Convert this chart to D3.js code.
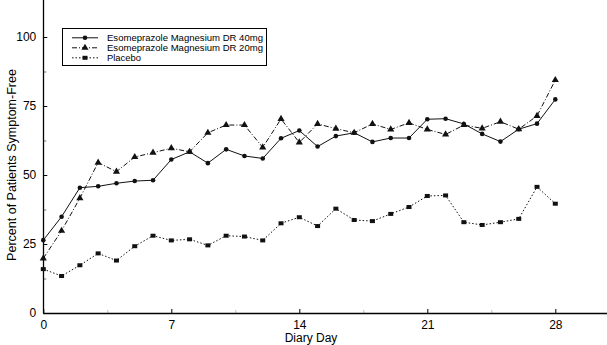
<!DOCTYPE html>
<html><head><meta charset="utf-8">
<script src="https://cdn.jsdelivr.net/npm/d3@7"></script>
<style>body{margin:0;background:#fff}svg{display:block}text{font-family:"Liberation Sans",Arial,sans-serif}</style>
</head><body><svg id="c" width="607" height="345"></svg>
<script>
const days = d3.range(0, 29);
const esome40 = [26.4,34.9,45.4,45.9,47.0,47.8,48.1,55.6,58.4,54.3,59.3,56.9,56.0,63.3,66.1,60.3,64.1,65.3,62.0,63.4,63.4,70.2,70.4,68.5,64.9,62.1,66.6,68.6,77.4];
const esome20 = [19.8,29.8,41.6,54.5,51.2,56.5,58.1,59.7,58.4,65.3,68.1,68.1,60.0,70.3,61.8,68.5,66.8,65.3,68.5,66.5,68.9,66.5,64.7,68.1,66.9,69.3,66.6,71.4,84.4];
const placebo = [15.9,13.4,17.3,21.6,19.0,24.2,28.0,26.3,26.7,24.5,28.0,27.7,26.3,32.5,34.7,31.5,37.8,33.7,33.3,35.9,38.4,42.4,42.6,32.9,31.9,32.9,34.1,45.7,39.6];
const seriesNames = ["Esomeprazole Magnesium DR 40mg","Esomeprazole Magnesium DR 20mg","Placebo"];
const xTicks = [0,7,14,21,28];
const xMinor = [3.5,10.5,17.5,24.5];
const yTicks = [0,25,50,75,100];
const yMinor = [12.5,37.5,62.5,87.5];

const svg = d3.select("#c");
const x = d3.scaleLinear().domain([0,28]).range([43.3,555.3]);
const y = d3.scaleLinear().domain([0,100]).range([313,37]);

// axes
const gx = svg.append("g").attr("transform","translate(0,313)")
  .call(d3.axisBottom(x).tickValues(xTicks).tickSizeInner(-4).tickSizeOuter(0).tickPadding(7));
gx.select(".domain").remove();
const gy = svg.append("g").attr("transform","translate(43.3,0)")
  .call(d3.axisLeft(y).tickValues(yTicks).tickSizeInner(-4).tickSizeOuter(0).tickPadding(7));
gy.select(".domain").remove();
svg.selectAll(".tick text").attr("font-size",12).attr("fill","#000").attr("font-family","Liberation Sans, Arial, sans-serif");
svg.selectAll(".tick line").attr("stroke","#000");
svg.append("g").attr("transform","translate(0,313)")
  .call(d3.axisBottom(x).tickValues(xMinor).tickSizeInner(-3).tickSizeOuter(0).tickFormat(""))
  .call(g=>g.select(".domain").remove())
  .selectAll("line").attr("stroke","#bbb");
svg.append("g").attr("transform","translate(43.3,0)")
  .call(d3.axisLeft(y).tickValues(yMinor).tickSizeInner(-3).tickSizeOuter(0).tickFormat(""))
  .call(g=>g.select(".domain").remove())
  .selectAll("line").attr("stroke","#777");
svg.append("line").attr("x1",43.3).attr("x2",607).attr("y1",313.5).attr("y2",313.5).attr("stroke","#000").attr("stroke-width",1.3);
svg.append("line").attr("x1",43.5).attr("x2",43.5).attr("y1",0).attr("y2",313.5).attr("stroke","#000").attr("stroke-width",1.3);

svg.append("text").attr("x",311).attr("y",342).attr("text-anchor","middle").attr("font-size",12).text("Diary Day");
svg.append("text").attr("transform","translate(16,165) rotate(-90)").attr("text-anchor","middle").attr("font-size",12.5).text("Percent of Patients Symptom-Free");

const styles = [
  {data: esome40, dash: null, marker: "circle"},
  {data: esome20, dash: "5,2,1,2", marker: "triangle"},
  {data: placebo, dash: "1.5,2", marker: "square"}
];
const line = d3.line().x((d,i)=>x(days[i])).y(d=>y(d));
function marker(g, type, cx, cy){
  if(type==="circle") g.append("circle").attr("cx",cx).attr("cy",cy).attr("r",2.3).attr("fill","#111");
  else if(type==="triangle") g.append("path").attr("d",d3.symbol(d3.symbolTriangle,22)()).attr("transform",`translate(${cx},${cy})`).attr("fill","#111");
  else g.append("rect").attr("x",cx-2.5).attr("y",cy-2).attr("width",5).attr("height",4).attr("fill","#111");
}
styles.forEach(s=>{
  svg.append("path").datum(s.data).attr("d",line).attr("fill","none").attr("stroke","#111")
    .attr("stroke-width",1).attr("stroke-dasharray",s.dash);
  const g = svg.append("g");
  s.data.forEach((v,i)=>marker(g,s.marker,x(days[i]),y(v)));
});

// legend
const lg = svg.append("g");
lg.append("rect").attr("x",62.5).attr("y",28.5).attr("width",204).attr("height",37).attr("fill","#fff").attr("stroke","#000").attr("stroke-width",1);
seriesNames.forEach((n,i)=>{
  const yy = 37.8 + i*10;
  lg.append("line").attr("x1",72).attr("x2",98).attr("y1",yy).attr("y2",yy).attr("stroke","#111").attr("stroke-dasharray",styles[i].dash);
  marker(lg, styles[i].marker, 85, yy);
  const t = lg.append("text").attr("x",107).attr("y",yy+3.3).attr("font-size",9).text(n);
  if(i<2) t.attr("textLength",156).attr("lengthAdjust","spacingAndGlyphs");
  else t.attr("textLength",34).attr("lengthAdjust","spacingAndGlyphs");
});
</script></body></html>
